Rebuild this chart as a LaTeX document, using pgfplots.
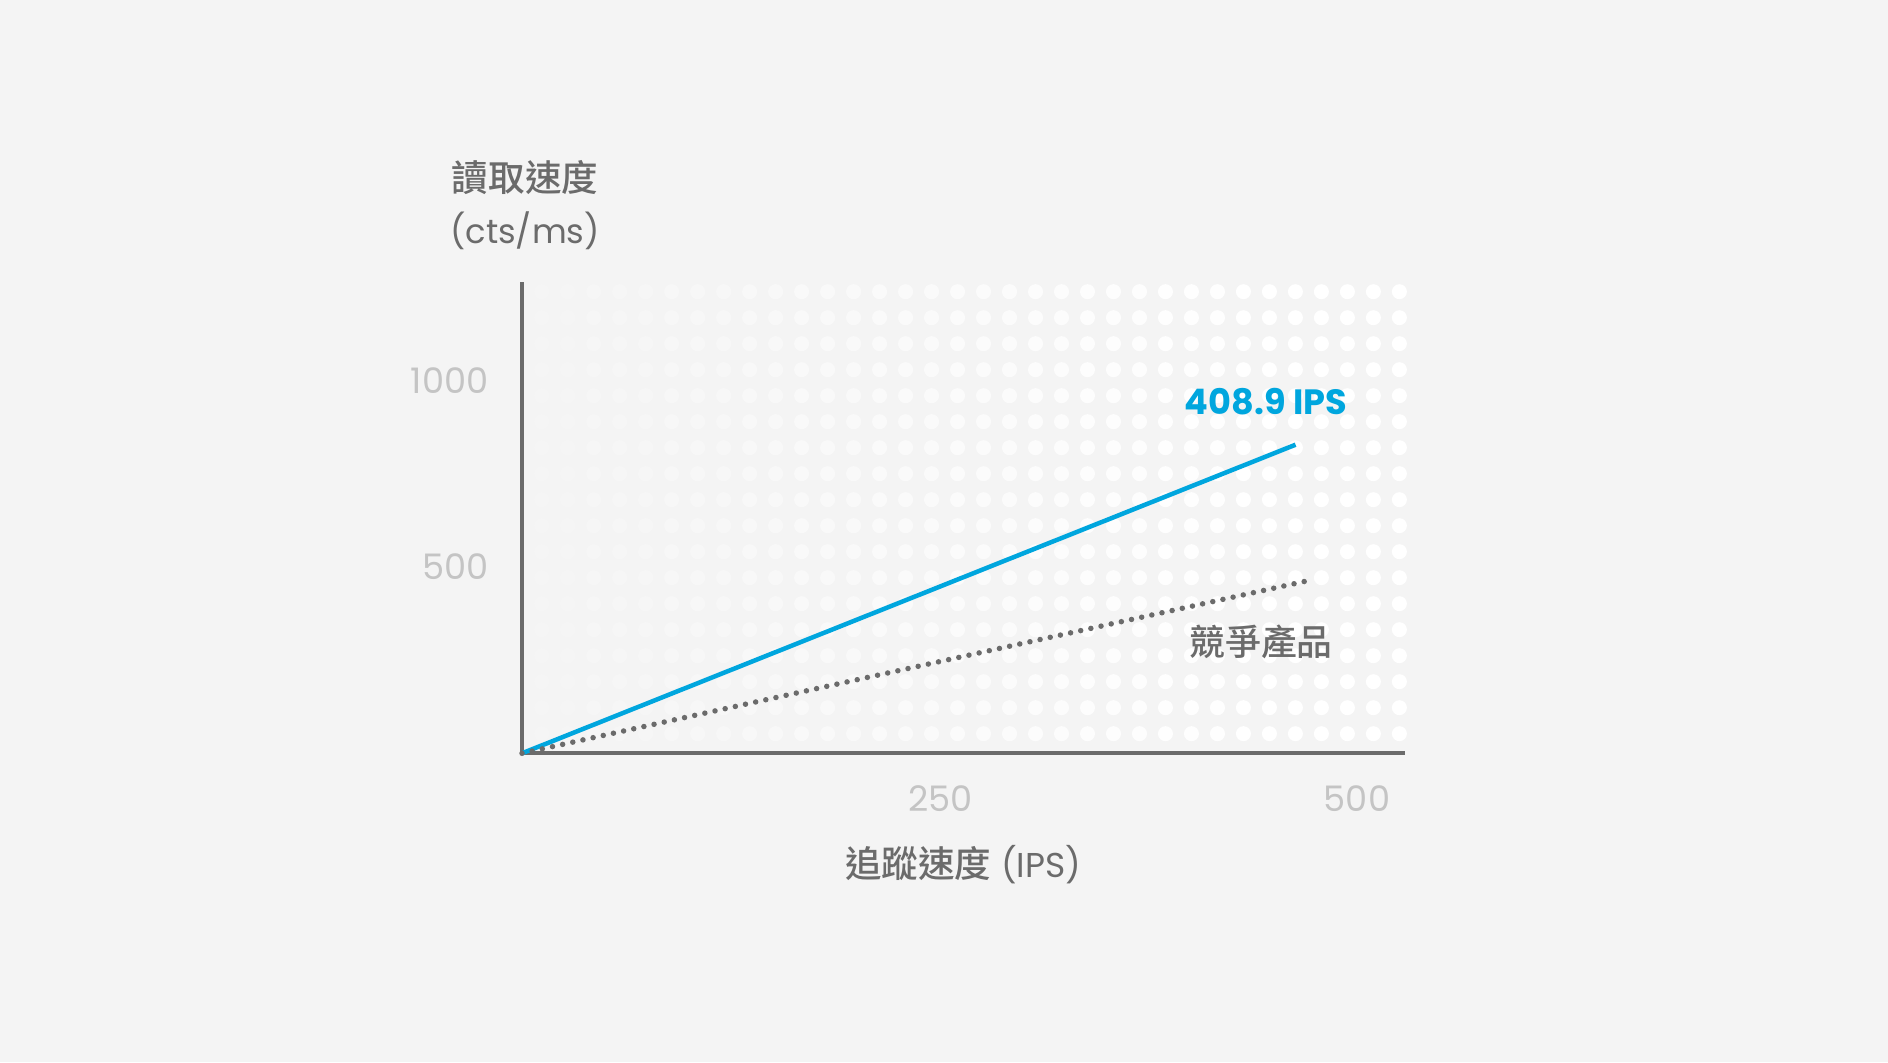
\documentclass[border=0pt]{standalone}
\usepackage{fontspec}
\usepackage{pgfplots}
\pgfplotsset{compat=1.18}
\setmainfont{Poppins}
\newfontfamily\cjk{Noto Sans CJK TC Medium}

\definecolor{bg}{HTML}{F4F4F4}
\definecolor{axisgray}{HTML}{6B6B6B}
\definecolor{ticklight}{HTML}{C4C4C4}
\definecolor{ipsblue}{RGB}{0,166,222}

\begin{document}
\begin{tikzpicture}
% page background, 1px = 0.01cm
\path[use as bounding box, fill=bg] (0,0) rectangle (18.88cm,10.62cm);

% decorative dot grid
\foreach \i in {0,...,33}{
  \pgfmathsetmacro{\op}{min(1,0.12+1.1*\i/33)}
  \foreach \j in {0,...,17}{
    \fill[white, opacity=\op] (5.417cm+\i*0.2599cm, 7.703cm-\j*0.26cm) circle (0.075cm);
  }
}

\begin{axis}[
    at={(5.22cm,3.087cm)},
    anchor=south west,
    scale only axis,
    width=8.83cm,
    height=4.716cm,
    xmin=0, xmax=530,
    ymin=0, ymax=1270,
    axis x line=bottom,
    axis y line=left,
    axis line style={-, draw=axisgray, line width=0.04cm},
    xtick={250,500},
    xticklabels={250,500},
    ytick={500,1000},
    yticklabels={500,1000},
    major tick length=0pt,
    tick style={draw=none},
    x tick label style={font=\fontsize{10}{12}\selectfont, text=ticklight, inner sep=0pt, anchor=center, yshift=-0.45cm, xshift=0.02cm},
    y tick label style={font=\fontsize{10}{12}\selectfont, text=ticklight, inner sep=0pt, anchor=east, xshift=-0.33cm, yshift=0.01cm},
    clip=false,
]
\addplot[ipsblue, line width=0.045cm] coordinates {(0,0) (464.3,831)};
\addplot[axisgray, line width=0.055cm, line cap=round, dash pattern=on 0pt off 0.104cm] coordinates {(0,0) (475,468)};
\end{axis}

% titles and annotations
\node[text=axisgray, align=center, font=\fontsize{10.4}{14.6}\selectfont] at (5.25cm,8.57cm) {{\cjk 讀取速度}\\{\fontsize{9.6}{14.6}\selectfont(cts/ms)}};
\node[text=axisgray, font=\fontsize{10.4}{12}\selectfont] at (9.63cm,1.975cm) {{\cjk 追蹤速度} {\fontsize{9.8}{12}\selectfont(IPS)}};
\node[text=ipsblue, font=\bfseries\fontsize{10}{12}\selectfont] at (12.66cm,6.60cm) {408.9 IPS};
\node[text=axisgray, font=\cjk\fontsize{10.2}{12}\selectfont] at (12.61cm,4.203cm) {競爭產品};
\end{tikzpicture}
\end{document}
